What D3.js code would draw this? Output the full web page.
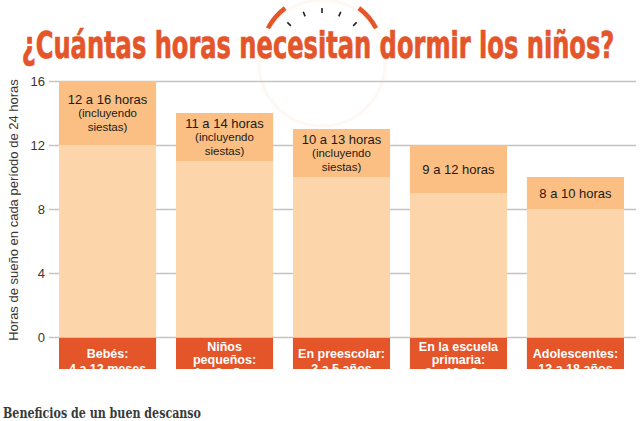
<!DOCTYPE html>
<html><head><meta charset="utf-8">
<script src="https://cdn.jsdelivr.net/npm/d3@7"></script>
<style>html,body{margin:0;padding:0;background:#fff;overflow:hidden}</style>
</head><body>
<svg id="c" width="642" height="421"></svg>
<script>
const categories = [
  ["Bebés:", "4 a 12 meses"],
  ["Niños", "pequeños:", "1 a 2 años"],
  ["En preescolar:", "3 a 5 años"],
  ["En la escuela", "primaria:", "6 a 12 años"],
  ["Adolescentes:", "13 a 18 años"]
];
const minHours = [12, 11, 10, 9, 8];
const maxHours = [16, 14, 13, 12, 10];
const rangeLabels = [
  ["12 a 16 horas", "(incluyendo", "siestas)"],
  ["11 a 14 horas", "(incluyendo", "siestas)"],
  ["10 a 13 horas", "(incluyendo", "siestas)"],
  ["9 a 12 horas"],
  ["8 a 10 horas"]
];
const yTicks = [0, 4, 8, 12, 16];
const titleText = "¿Cuántas horas necesitan dormir los niños?";
const yLabel = "Horas de sueño en cada período de 24 horas";
const footerText = "Beneficios de un buen descanso";

const svg = d3.select("#c");
const ORANGE = "#e4552a", TOP = "#fbbf83", LOW = "#fcd6aa";
const idx = d3.range(categories.length);
const x = d3.scaleBand().domain(idx).range([59, 624]).paddingInner(0.17).paddingOuter(0);
const y = d3.scaleLinear().domain([0, 16]).range([337, 81]);

// clock decoration
const cx = 322, cy = 57;
svg.append("circle").attr("cx", cx).attr("cy", cy + 6).attr("r", 63)
  .attr("fill", "none").attr("stroke", "#fef7f3").attr("stroke-width", 3);
const arc = d3.arc().innerRadius(59).outerRadius(63.5);
[[-62, -37], [37, 62]].forEach(([a0, a1]) => {
  svg.append("path").attr("transform", `translate(${cx},${cy})`)
    .attr("d", arc({startAngle: a0 * Math.PI / 180, endAngle: a1 * Math.PI / 180}))
    .attr("fill", ORANGE);
});
[-45, -22.5, 0, 22.5, 45].forEach(a => {
  const r = a * Math.PI / 180;
  svg.append("line")
    .attr("x1", cx + 44 * Math.sin(r)).attr("y1", cy - 44 * Math.cos(r))
    .attr("x2", cx + 49 * Math.sin(r)).attr("y2", cy - 49 * Math.cos(r))
    .attr("stroke", "#222").attr("stroke-width", 1.6);
});

// title: tall bold narrow text, horizontally scaled to the target span
const title = svg.append("text").attr("x", 0).attr("y", 0).attr("text-anchor", "middle")
  .attr("font-family", "'Liberation Sans Narrow','DejaVu Sans Condensed','Roboto',sans-serif")
  .attr("font-weight", "bold").attr("font-size", 38).attr("fill", ORANGE)
  .attr("stroke", ORANGE).attr("stroke-width", 0.7)
  .text(titleText);
const w0 = title.node().getComputedTextLength();
const sx = w0 > 0 ? 593 / w0 : 1;
title.attr("transform", `translate(318,58) scale(${sx},1)`);

// gridlines
svg.append("g").attr("transform", "translate(636,0)")
  .call(d3.axisLeft(y).tickValues(yTicks).tickSize(587).tickFormat(""))
  .call(g => g.select(".domain").remove())
  .call(g => g.selectAll("line").attr("stroke", "#c9c3bc").attr("stroke-width", 1.5));

// y tick labels
svg.append("g").attr("transform", "translate(47,0)")
  .call(d3.axisLeft(y).tickValues(yTicks).tickSize(0).tickPadding(2))
  .call(g => g.select(".domain").remove())
  .call(g => g.selectAll("text").attr("font-family", "'Liberation Sans',Arial,sans-serif")
    .attr("font-size", 13).attr("fill", "#3a3530"));

// y label
svg.append("text").attr("transform", "translate(18,210) rotate(-90)")
  .attr("text-anchor", "middle").attr("font-family", "'Liberation Sans',Arial,sans-serif")
  .attr("font-size", 13).attr("fill", "#3a3530").text(yLabel);

// bars
const bars = svg.append("g");
bars.selectAll("rect.low").data(idx).join("rect")
  .attr("x", i => x(i)).attr("width", x.bandwidth())
  .attr("y", i => y(minHours[i])).attr("height", i => y(0) - y(minHours[i]))
  .attr("fill", LOW);
bars.selectAll("rect.top").data(idx).join("rect")
  .attr("x", i => x(i)).attr("width", x.bandwidth())
  .attr("y", i => y(maxHours[i])).attr("height", i => y(minHours[i]) - y(maxHours[i]))
  .attr("fill", TOP);

// range labels
idx.forEach(i => {
  const lines = rangeLabels[i];
  const mid = (y(maxHours[i]) + y(minHours[i])) / 2;
  const lh = 13.5;
  const start = mid - (lines.length - 1) * lh / 2;
  const t = svg.append("text").attr("text-anchor", "middle")
    .attr("font-family", "'Liberation Sans',Arial,sans-serif").attr("fill", "#1a1a1a");
  lines.forEach((l, k) => {
    t.append("tspan").attr("x", x(i) + x.bandwidth() / 2).attr("y", start + k * lh)
      .attr("dy", "0.35em").attr("font-size", k === 0 ? 13 : 11.5).text(l);
  });
});

// category boxes
svg.append("defs").append("clipPath").attr("id", "boxclip")
  .append("rect").attr("x", 0).attr("y", 338).attr("width", 642).attr("height", 31);
const cg = svg.append("g").attr("clip-path", "url(#boxclip)");
cg.selectAll("rect").data(idx).join("rect")
  .attr("x", i => x(i)).attr("width", x.bandwidth())
  .attr("y", 338).attr("height", 31).attr("fill", ORANGE);
idx.forEach(i => {
  const lines = categories[i];
  const three = lines.length === 3;
  const start = three ? 346.5 : 354;
  const lh = three ? 13 : 14.5;
  const t = cg.append("text").attr("text-anchor", "middle")
    .attr("font-family", "'Liberation Sans',Arial,sans-serif").attr("font-weight", "bold")
    .attr("font-size", 12.5).attr("fill", "#fff");
  lines.forEach((l, k) => {
    t.append("tspan").attr("x", x(i) + x.bandwidth() / 2).attr("y", start + k * lh)
      .attr("dy", "0.35em").text(l);
  });
});

// footer
svg.append("text").attr("x", 3).attr("y", 418)
  .attr("font-family", "'DejaVu Serif','Liberation Serif',serif").attr("font-weight", "bold")
  .attr("font-size", 14).attr("fill", "#3a3a3a")
  .attr("textLength", 198).attr("lengthAdjust", "spacingAndGlyphs")
  .text(footerText);
</script>
</body></html>
